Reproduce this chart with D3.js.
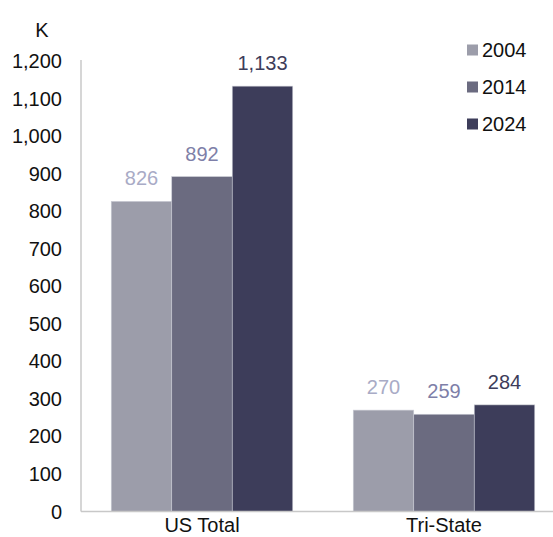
<!DOCTYPE html>
<html><head><meta charset="utf-8">
<script src="https://cdn.jsdelivr.net/npm/d3@7"></script>
<style>body{margin:0;background:#fff}svg{display:block}text{font-family:"Liberation Sans",Arial,sans-serif}</style>
</head><body><svg id="c" width="553" height="537"></svg>
<script>
const categories = ["US Total", "Tri-State"];
const years = ["2004", "2014", "2024"];
const values2004 = [826, 270];
const values2014 = [892, 259];
const values2024 = [1133, 284];
const yTicks = [0,100,200,300,400,500,600,700,800,900,1000,1100,1200];

const series = [values2004, values2014, values2024];
const barColors = ["#9c9daa", "#6b6b80", "#3d3d5a"];
const labelColors = ["#a9abc6", "#7e7fa8", "#3d3d5a"];

const svg = d3.select("#c");
const y = d3.scaleLinear().domain([0,1200]).range([511.5, 61]);
const x0 = d3.scaleBand().domain(categories).range([81, 565]).padding(0);
const bw = x0.bandwidth();
const x1 = d3.scaleBand().domain(years).range([bw*0.125, bw*0.875]).padding(0);
const FS = 20;

// y tick labels
svg.append("g").selectAll("text").data(yTicks).join("text")
  .attr("x", 62).attr("y", d => y(d)).attr("dy", "0.35em")
  .attr("text-anchor", "end").attr("font-size", FS).attr("fill", "#111")
  .text(d => d3.format(",")(d));
svg.append("text").attr("x", 42).attr("y", 30).attr("dy","0.35em").attr("text-anchor","middle")
  .attr("font-size", FS).attr("fill", "#111").text("K");

// bars
categories.forEach((c, ci) => {
  years.forEach((yr, si) => {
    const v = series[si][ci];
    const bx = x0(c) + x1(yr);
    svg.append("rect").attr("x", bx).attr("y", y(v))
      .attr("width", x1.bandwidth()).attr("height", y(0) - y(v))
      .attr("fill", barColors[si]).attr("stroke", "#c9cad3").attr("stroke-width", 0.6);
    svg.append("text").attr("x", bx + x1.bandwidth()/2).attr("y", y(v) - 16)
      .attr("text-anchor", "middle").attr("font-size", FS).attr("fill", labelColors[si])
      .text(d3.format(",")(v));
  });
});

// axes lines
svg.append("line").attr("x1", 81).attr("x2", 81).attr("y1", 60).attr("y2", y(0))
  .attr("stroke", "#c8c8c8").attr("stroke-width", 1.5);
svg.append("line").attr("x1", 81).attr("x2", 553).attr("y1", y(0)).attr("y2", y(0))
  .attr("stroke", "#c8c8c8").attr("stroke-width", 1.5);

// category labels
svg.append("g").selectAll("text").data(categories).join("text")
  .attr("x", d => x0(d) + bw/2).attr("y", 532)
  .attr("text-anchor", "middle").attr("font-size", FS).attr("fill", "#111").text(d => d);

// legend
years.forEach((yr, i) => {
  const ly = 50 + i*37;
  svg.append("rect").attr("x", 467).attr("y", ly - 5.5).attr("width", 11).attr("height", 11).attr("fill", barColors[i]);
  svg.append("text").attr("x", 482).attr("y", ly).attr("dy", "0.35em")
    .attr("font-size", FS).attr("fill", "#111").text(yr);
});
</script></body></html>
